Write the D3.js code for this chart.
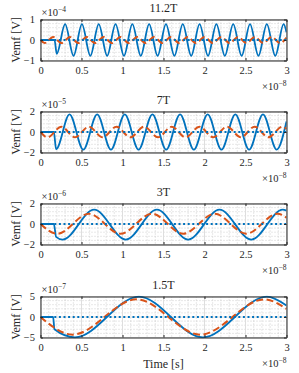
<!DOCTYPE html>
<meta charset="utf-8">
<script src="https://d3js.org/d3.v7.min.js"></script>
<style>
  body { margin: 0; background: #fff; }
  text { font-family: "Liberation Serif", "Times New Roman", serif; fill: #262626; }
</style>
<body>
<div id="chart"></div>
<script>

// panel texts and axis settings
const panelTitles = ["11.2T", "7T", "3T", "1.5T"];
const yExponents = ["\u22124", "\u22125", "\u22126", "\u22127"];
const yLimits = [1, 2, 2, 5];
const yTicks = [[-1, 0, 1], [-2, 0, 2], [-2, 0, 2], [-5, 0, 5]];
const yTickLabels = [["\u22121", "0", "1"], ["\u22122", "0", "2"], ["\u22122", "0", "2"], ["\u22125", "0", "5"]];
const xTicks = [0, 0.5, 1, 1.5, 2, 2.5, 3];
const xTickLabels = ["0", "0.5", "1", "1.5", "2", "2.5", "3"];

// time in 1e-8 s, value in units of the panel exponent (peaks / troughs)
const solid112 = [[0,0],[0.171,0],[0.198,-0.67],[0.300,0.77],[0.403,-0.77],[0.505,0.77],[0.608,-0.77],[0.710,0.77],[0.813,-0.77],[0.915,0.77],[1.018,-0.77],[1.120,0.77],[1.223,-0.77],[1.325,0.77],[1.428,-0.77],[1.530,0.77],[1.633,-0.77],[1.735,0.77],[1.838,-0.77],[1.940,0.77],[2.043,-0.77],[2.145,0.77],[2.248,-0.77],[2.350,0.77],[2.453,-0.77],[2.555,0.77],[2.658,-0.77],[2.760,0.77],[2.863,-0.77],[2.965,0.77],[3.0,0.37]];
const dashed112 = [[0,0],[0.051,-0.15],[0.154,0.15],[0.256,-0.15],[0.359,0.15],[0.461,-0.15],[0.564,0.15],[0.666,-0.15],[0.769,0.15],[0.871,-0.15],[0.974,0.15],[1.076,-0.15],[1.179,0.15],[1.281,-0.15],[1.384,0.15],[1.486,-0.15],[1.589,0.15],[1.691,-0.15],[1.794,0.15],[1.896,-0.15],[1.999,0.15],[2.101,-0.15],[2.204,0.15],[2.306,-0.15],[2.409,0.15],[2.511,-0.15],[2.614,0.15],[2.716,-0.15],[2.819,0.15],[2.921,-0.15],[3.0,0.11]];

const solid7 = [[0,0],[0.163,0],[0.190,-1.67],[0.354,1.72],[0.522,-1.72],[0.691,1.72],[0.859,-1.72],[1.028,1.72],[1.196,-1.72],[1.365,1.72],[1.533,-1.72],[1.702,1.72],[1.870,-1.72],[2.039,1.72],[2.207,-1.72],[2.376,1.72],[2.544,-1.72],[2.713,1.72],[2.881,-1.72],[3.0,1.03]];
const dashed7 = [[0,0],[0.084,-0.52],[0.253,0.52],[0.421,-0.52],[0.590,0.52],[0.758,-0.52],[0.927,0.52],[1.095,-0.52],[1.264,0.52],[1.432,-0.52],[1.601,0.52],[1.769,-0.52],[1.938,0.52],[2.106,-0.52],[2.275,0.52],[2.443,-0.52],[2.612,0.52],[2.780,-0.52],[2.949,0.52],[3.0,0.30]];

const solid3 = [[0,0],[0.163,0],[0.190,-1.25],[0.270,-1.52],[0.654,1.40],[1.040,-1.52],[1.420,1.40],[1.800,-1.52],[2.183,1.40],[2.570,-1.52],[2.955,1.40],[3.0,1.31]];
const dashed3 = [[0,0],[0.205,-0.95],[0.590,1.0],[0.975,-0.95],[1.360,1.0],[1.740,-0.95],[2.125,1.0],[2.510,-0.95],[2.890,1.0],[3.0,0.62]];

const solid15 = [[0,0],[0.154,0],[0.170,-3.0],[0.420,-4.95],[1.200,4.95],[1.980,-4.95],[2.760,4.95],[3.0,2.8]];
const dashed15 = [[0,0],[0.390,-4.3],[1.170,4.3],[1.950,-4.3],[2.730,4.3],[3.0,2.0]];

const zeroLine = [[0,0],[3,0]];

const solidSeries = [solid112, solid7, solid3, solid15];
const dashedSeries = [dashed112, dashed7, dashed3, dashed15];

const W = 299, H = 373;
const left = 40.5, right = 286.5;
const tops = [19.5, 111.5, 203.5, 296.5];
const ph = 41;
const blue = "#0072bd", orange = "#d95319", axisCol = "#262626";

const svg = d3.select("#chart").append("svg")
  .attr("width", W).attr("height", H);

const x = d3.scaleLinear().domain([0, 3]).range([left, right]);

panelTitles.forEach(function(title, i) {
  const top = tops[i], bottom = top + ph;
  const L = yLimits[i];
  const y = d3.scaleLinear().domain([-L, L]).range([bottom, top]);
  const g = svg.append("g");

  // grid, minor first
  const xMinor = d3.range(0, 3.0001, 0.1).filter(d => Math.abs(d * 2 - Math.round(d * 2)) > 1e-6);
  const yMinor = d3.range(-L, L + 1e-9, L / 5).filter(d => Math.abs(d) > 1e-9 && Math.abs(Math.abs(d) - L) > 1e-9);
  g.selectAll(".vminor").data(xMinor).join("line")
    .attr("x1", d => x(d)).attr("x2", d => x(d)).attr("y1", top).attr("y2", bottom)
    .attr("stroke", "#c4c4c4").attr("stroke-width", 0.8).attr("stroke-dasharray", "1,2");
  g.selectAll(".hminor").data(yMinor).join("line")
    .attr("x1", left).attr("x2", right).attr("y1", d => y(d)).attr("y2", d => y(d))
    .attr("stroke", "#c4c4c4").attr("stroke-width", 0.8).attr("stroke-dasharray", "1,2");
  g.selectAll(".vmajor").data(xTicks).join("line")
    .attr("x1", d => x(d)).attr("x2", d => x(d)).attr("y1", top).attr("y2", bottom)
    .attr("stroke", "#dedede").attr("stroke-width", 1);
  g.selectAll(".hmajor").data(yTicks[i]).join("line")
    .attr("x1", left).attr("x2", right).attr("y1", d => y(d)).attr("y2", d => y(d))
    .attr("stroke", "#dedede").attr("stroke-width", 1);

  // data lines
  const clipId = "clip" + i;
  svg.append("clipPath").attr("id", clipId).append("rect")
    .attr("x", left).attr("y", top - 1).attr("width", right - left).attr("height", ph + 2);
  const line = d3.line().x(d => x(d[0])).y(d => y(d[1])).curve(d3.curveMonotoneX);
  const lines = g.append("g").attr("clip-path", "url(#" + clipId + ")");
  lines.append("path").datum(solidSeries[i])
    .attr("fill", "none").attr("stroke", blue).attr("stroke-width", 1.8).attr("d", line);
  lines.append("path").datum(dashedSeries[i])
    .attr("fill", "none").attr("stroke", orange).attr("stroke-width", 2).attr("stroke-dasharray", "7,3.5").attr("d", line);
  lines.append("path").datum(zeroLine)
    .attr("fill", "none").attr("stroke", blue).attr("stroke-width", 2).attr("stroke-dasharray", "2,2.6").attr("d", line);

  // axes (box with inward ticks)
  const xb = g.append("g").attr("transform", "translate(0," + bottom + ")")
    .call(d3.axisBottom(x).tickValues(xTicks).tickFormat((d, k) => xTickLabels[k]).tickSizeInner(-2.5).tickSizeOuter(0).tickPadding(6));
  const xt = g.append("g").attr("transform", "translate(0," + top + ")")
    .call(d3.axisTop(x).tickValues(xTicks).tickFormat("").tickSizeInner(-2.5).tickSizeOuter(0));
  const yl = g.append("g").attr("transform", "translate(" + left + ",0)")
    .call(d3.axisLeft(y).tickValues(yTicks[i]).tickFormat((d, k) => yTickLabels[i][k]).tickSizeInner(-2.5).tickSizeOuter(0).tickPadding(5.5));
  const yr = g.append("g").attr("transform", "translate(" + right + ",0)")
    .call(d3.axisRight(y).tickValues(yTicks[i]).tickFormat("").tickSizeInner(-2.5).tickSizeOuter(0));
  [xb, xt, yl, yr].forEach(a => {
    a.select(".domain").attr("stroke", axisCol).attr("stroke-width", 1);
    a.selectAll(".tick line").attr("stroke", axisCol);
    a.selectAll("text").attr("font-family", "Liberation Serif").attr("font-size", "10.5px").attr("fill", axisCol);
  });

  // title
  g.append("text").attr("x", (left + right) / 2).attr("y", top - 7.5)
    .attr("text-anchor", "middle").style("font-size", "12px").text(title);

  // exponent labels
  const ey = g.append("text").attr("x", left + 1).attr("y", top - 3.5).style("font-size", "10.5px");
  ey.append("tspan").text("\u00d710");
  ey.append("tspan").attr("dy", -4).style("font-size", "7.5px").text(yExponents[i]);
  const ex = g.append("text").attr("x", right).attr("y", bottom + 29).attr("text-anchor", "end").style("font-size", "10.5px");
  ex.append("tspan").text("\u00d710");
  ex.append("tspan").attr("dy", -4).style("font-size", "7.5px").text("\u22128");

  // y label
  g.append("text").attr("transform", "translate(19.5," + (top + bottom) / 2 + ") rotate(-90)")
    .attr("text-anchor", "middle").style("font-size", "12px").text("Vemf [V]");
});

svg.append("text").attr("x", (left + right) / 2).attr("y", 368)
  .attr("text-anchor", "middle").style("font-size", "12px").text("Time [s]");

</script>
</body>
